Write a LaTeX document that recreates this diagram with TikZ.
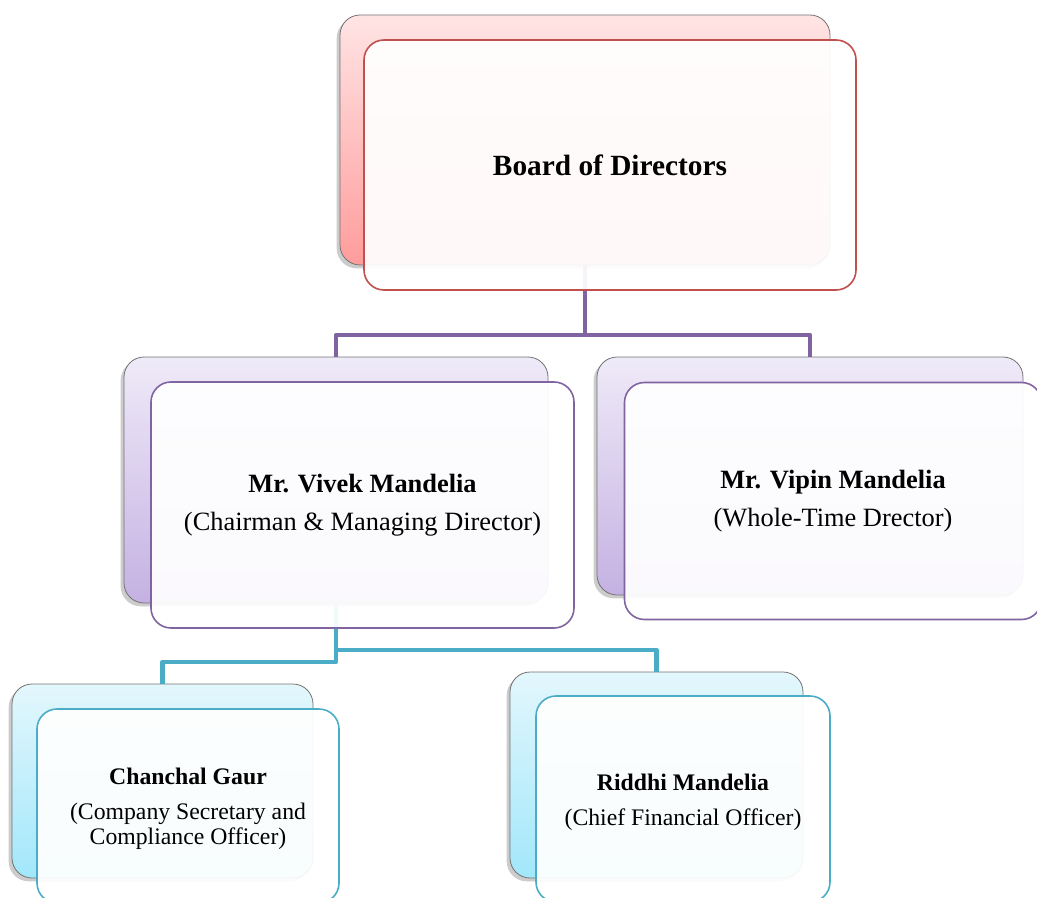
\documentclass[tikz,border=0pt]{standalone}
\usepackage{fontspec}
\setmainfont{Liberation Serif}
\usetikzlibrary{shadows}
\definecolor{bred}{HTML}{C0504D}
\definecolor{bpurple}{HTML}{8064A2}
\definecolor{bteal}{HTML}{4BACC6}
\definecolor{pinkT}{HTML}{FFE4E4}
\definecolor{pinkB}{HTML}{FF9C9C}
\definecolor{lavT}{HTML}{EFEAF8}
\definecolor{lavB}{HTML}{C4B1E2}
\definecolor{cyanT}{HTML}{E3F7FC}
\definecolor{cyanB}{HTML}{A2E7FB}
\tikzset{
  backbox/.style={draw=black!55, line width=0.6pt, rounded corners=15pt, inner sep=0pt,
    drop shadow={shadow xshift=-2.5pt, shadow yshift=-2.5pt, opacity=0.4}},
  frontbox/.style={rounded corners=15pt, line width=1.2pt, fill=white, fill opacity=0.93,
    text opacity=1, inner sep=0pt, align=center, text=black},
  conn/.style={line width=3.6pt, line join=round},
  lvtwo/.style={font=\fontsize{19.8pt}{28.5pt}\selectfont},
  lvthree/.style={font=\fontsize{17.8pt}{19pt}\selectfont}
}
\begin{document}
\begin{tikzpicture}[x=0.75pt,y=-0.75pt]
\useasboundingbox (0,0) rectangle (1037,898);
% back boxes
\node[backbox, top color=pinkT, bottom color=pinkB, minimum width=367.5pt, minimum height=187.5pt] (bodB) at (585,140) {};
\node[backbox, top color=lavT, bottom color=lavB, minimum width=318pt, minimum height=184.5pt] (vivB) at (336,480) {};
\node[backbox, top color=lavT, bottom color=lavB, minimum width=319.5pt, minimum height=178.5pt] (vipB) at (810,476) {};
\node[backbox, top color=cyanT, bottom color=cyanB, minimum width=225.75pt, minimum height=145.5pt] (chB) at (162.5,781) {};
\node[backbox, top color=cyanT, bottom color=cyanB, minimum width=219.75pt, minimum height=154.5pt] (riB) at (656.5,775) {};
% connectors
\coordinate (h1) at (0,335);
\coordinate (h2) at (0,662);
\coordinate (h3) at (0,650);
\draw[conn, bpurple] (bodB.south) -- (bodB.south |- h1) coordinate (pj) -| (vivB.north);
\draw[conn, bpurple] (pj) -| (vipB.north);
\draw[conn, bteal] (vivB.south) -- (vivB.south |- h2) -| (chB.north);
\draw[conn, bteal] (vivB.south |- h3) -| (riB.north);
% front boxes
\node[frontbox, draw=bred, minimum width=369pt, minimum height=187.5pt, font=\fontsize{22pt}{26pt}\selectfont\bfseries] (bod) at (610,165) {Board of Directors};
\node[frontbox, draw=bpurple, minimum width=317.25pt, minimum height=184.5pt, lvtwo] (viv) at (362.5,505) {\textbf{Mr. Vivek Mandelia}\\(Chairman \& Managing Director)};
\node[frontbox, draw=bpurple, minimum width=312.75pt, minimum height=177.75pt, lvtwo] (vip) at (833,501) {\textbf{Mr. Vipin Mandelia}\\(Whole-Time Drector)};
\node[frontbox, draw=bteal, minimum width=226.5pt, minimum height=145.5pt, lvthree] (ch) at (188,806) {\rule{0pt}{17pt}\textbf{Chanchal Gaur}\\[7pt](Company Secretary and\\Compliance Officer)};
\node[frontbox, draw=bteal, minimum width=220.5pt, minimum height=154.5pt, lvthree] (ri) at (683,799) {\rule{0pt}{17pt}\textbf{Riddhi Mandelia}\\[7pt](Chief Financial Officer)};
\end{tikzpicture}
\end{document}
